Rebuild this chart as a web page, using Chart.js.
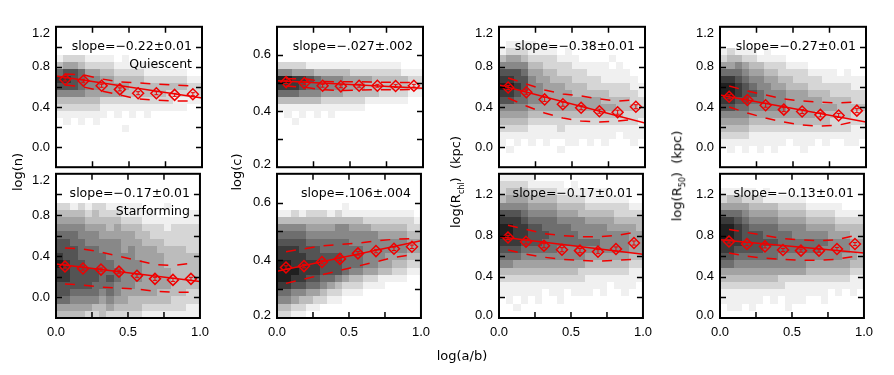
<!DOCTYPE html>
<html>
<head>
<meta charset="utf-8">
<script src="https://cdn.jsdelivr.net/npm/chart.js@4.4.1/dist/chart.umd.min.js"></script>
<style>
body { margin:0; background:#fff; width:894px; height:375px; position:relative; overflow:hidden; font-family:"DejaVu Sans", sans-serif; }
canvas { position:absolute; }
.yt { position:absolute; font-size:13px; white-space:nowrap; transform:translate(-50%,-50%) rotate(-90deg); color:#000; }
.xt { position:absolute; font-size:13px; white-space:nowrap; transform:translate(-50%,-50%); color:#000; }
sub { font-size:8px; }
</style>
</head>
<body>
<canvas id="p0" width="210" height="168" style="left:6px;top:13px"></canvas>
<canvas id="p1" width="210" height="168" style="left:227px;top:13px"></canvas>
<canvas id="p2" width="210" height="168" style="left:449px;top:13px"></canvas>
<canvas id="p3" width="210" height="168" style="left:670px;top:13px"></canvas>
<canvas id="p4" width="210" height="188" style="left:6px;top:160px"></canvas>
<canvas id="p5" width="210" height="188" style="left:227px;top:160px"></canvas>
<canvas id="p6" width="210" height="188" style="left:449px;top:160px"></canvas>
<canvas id="p7" width="210" height="188" style="left:670px;top:160px"></canvas>
<div class="yt" style="left:17px;top:172px">log(n)</div>
<div class="yt" style="left:236px;top:172px">log(c)</div>
<div class="yt" style="left:457px;top:182px">log(R<sub>chl</sub>)&nbsp;&nbsp;(kpc)</div>
<div class="yt" style="left:678px;top:176px">log(R<sub>50</sub>)&nbsp;&nbsp;(kpc)</div>
<div class="xt" style="left:462px;top:355px">log(a/b)</div>
<script>
// bin centres in log(a/b)
const xBins = [0.0625, 0.1875, 0.3125, 0.4375, 0.5625, 0.6875, 0.8125, 0.9375];
const xTickMarks = [0.25, 0.5, 0.75];

// log(n), quiescent
const nQMed = [0.675, 0.662, 0.612, 0.576, 0.538, 0.538, 0.521, 0.528];
const nQUp  = [0.73, 0.72, 0.68, 0.65, 0.64, 0.63, 0.62, 0.61];
const nQLo  = [0.62, 0.60, 0.56, 0.52, 0.48, 0.47, 0.46, 0.46];
const nQFit = [0.71, 0.49];
// log(n), starforming
const nSMed = [0.30, 0.28, 0.27, 0.25, 0.21, 0.18, 0.17, 0.18];
const nSUp  = [0.48, 0.47, 0.44, 0.40, 0.36, 0.32, 0.31, 0.33];
const nSLo  = [0.13, 0.12, 0.10, 0.09, 0.08, 0.06, 0.05, 0.05];
const nSFit = [0.325, 0.155];
// log(c), quiescent
const cQMed = [0.503, 0.500, 0.490, 0.488, 0.490, 0.490, 0.489, 0.490];
const cQUp  = [0.515, 0.515, 0.505, 0.504, 0.505, 0.503, 0.502, 0.502];
const cQLo  = [0.489, 0.485, 0.476, 0.473, 0.475, 0.476, 0.476, 0.477];
const cQFit = [0.508, 0.481];
// log(c), starforming
const cSMed = [0.375, 0.380, 0.394, 0.405, 0.424, 0.432, 0.440, 0.447];
const cSUp  = [0.430, 0.440, 0.450, 0.455, 0.460, 0.467, 0.473, 0.475];
const cSLo  = [0.320, 0.335, 0.350, 0.365, 0.380, 0.395, 0.410, 0.420];
const cSFit = [0.362, 0.468];
// log(R_chl), quiescent
const rQMed = [0.595, 0.547, 0.476, 0.428, 0.393, 0.358, 0.348, 0.403];
const rQUp  = [0.69, 0.63, 0.57, 0.53, 0.51, 0.48, 0.46, 0.47];
const rQLo  = [0.49, 0.41, 0.34, 0.29, 0.26, 0.25, 0.26, 0.28];
const rQFit = [0.62, 0.24];
// log(R_chl), starforming
const rSMed = [0.782, 0.740, 0.702, 0.663, 0.654, 0.644, 0.670, 0.728];
const rSUp  = [0.90, 0.86, 0.82, 0.80, 0.79, 0.79, 0.80, 0.83];
const rSLo  = [0.66, 0.62, 0.59, 0.57, 0.56, 0.55, 0.56, 0.57];
const rSFit = [0.79, 0.62];
// log(R_50), quiescent
const hQMed = [0.502, 0.470, 0.418, 0.374, 0.355, 0.322, 0.316, 0.364];
const hQUp  = [0.61, 0.56, 0.52, 0.48, 0.46, 0.45, 0.44, 0.45];
const hQLo  = [0.40, 0.34, 0.29, 0.25, 0.22, 0.21, 0.22, 0.26];
const hQFit = [0.52, 0.25];
// log(R_50), starforming
const hSMed = [0.743, 0.718, 0.695, 0.660, 0.654, 0.654, 0.670, 0.718];
const hSUp  = [0.86, 0.83, 0.80, 0.77, 0.76, 0.75, 0.76, 0.80];
const hSLo  = [0.63, 0.60, 0.58, 0.57, 0.56, 0.56, 0.57, 0.60];
const hSFit = [0.76, 0.63];

// half-size of the error bar on each median, per panel
const errHalf = [0.015, 0.005, 0.02, 0.02, 0.015, 0.006, 0.02, 0.015];

// 2d histograms, grey level 0-9, rows from top of axis down, 20 columns over log(a/b)
const nQHeat = [
  "00000000000000000000","00000000000000000000","00000000000000000000","00000000000000000000",
  "12221111010000000000","34432222111111000000","67764433222211111100","88765544333322222211",
  "77765544443333333322","55554444433333322222","33333322222222221111","22222211111111111100",
  "11111110101010000000","01010100000000000000","00000000010000000000","00000000000000000000",
  "00000000000000000000","00000000000000000000","00000000000000000000","00000000000000000000"];
const nSHeat = [
  "00000000000000000000","00000000000000000000","00000000000000000000","00000000000000000000",
  "22121221111100010000","33332322211111000011","44443333322211111111","55554443433322212222",
  "66655544444332222222","77665555544433322222","77766655545444333322","87766665555444433333",
  "98776666555544433333","88777766655544443333","88777767655544443333","77777666555444443333",
  "77666656544444333322","66555545443333332222","44444334333322222211","33332232222211111111"];
const cQHeat = [
  "00000000000000000000","00000000000000000000","00000000000000000000","00000000000000000000",
  "00000000000000000000","22221111111111111000","55444333332222222111","99887655544443333322",
  "88876655544433333322","66655544433333222211","33333322222211111100","11111111111100000000",
  "01010101000000000000","00100000000000000000","00000000000000000000","00000000000000000000",
  "00000000000000000000","00000000000000000000","00000000000000000000","00000000000000000000"];
const cSHeat = [
  "00000000000000000000","00000000000000000000","00000000000000000000","00000000000000000000",
  "00000000010000000000","11212221211111111110","33333333333322222221","55554444554443333322",
  "66665555555555444433","77776666665555555544","88877766666655555544","88887777766655544433",
  "99888877766655443322","99988877765544332211","99887766543322111100","88776654322211100000",
  "66554432211100000000","55433221100000000000","33221100000000000000","22110000000000000000"];
const rQHeat = [
  "00000000000000000000","00000000000000000000","01111010000000000000","12221111010000000000",
  "34432222111000010000","55553322221111101000","77764433222211111100","88775443332222111110",
  "99875544433322222211","88765544443333322221","77665544444444333322","55554444444444443332",
  "44443333333333333222","33332222222222222221","22221111211111111111","11111111111111110111",
  "10101010011010100010","01000000100000000000","00000000000000000000","00000000000000000000"];
const rSHeat = [
  "11111000000000000000","22221111101000000000","23332222111111100000","34443333222211111100",
  "55554444333322222211","77765555444333332222","88876666555544443333","99887766665555544443",
  "99887776666555555544","88877766666666555544","77766666555555555544","66655555555544444433",
  "55444444444433333322","33333333333222222211","22222222222211111111","11111111111111101110",
  "11111101101110100100","01010100100000000000","00100000000000000000","00000000000000000000"];
const hQHeat = [
  "00000000000000000000","00000000000000000000","00000000000000000000","12111010000000000000",
  "23322111100000000000","44543322211100000000","66654433222211110100","88765544332222111111",
  "99876554433322222211","99877655544433322222","88776655544444333322","77665555544444443333",
  "55554444444443333322","44443333333333322222","33332222222222222211","22221111111111111111",
  "11111111101110100110","01010101000100000000","00000000000000000000","00000000000000000000"];
const hSHeat = [
  "00000000000000000000","00000000000000000000","11111010000000000000","23322211111100000000",
  "44443333222211111000","66654444333322221111","88765555444433332222","99876666555544443333",
  "99877766665555544433","88877777666666655544","88777766666666555544","77666666555555555443",
  "66555555555544444433","44444444444433333322","33333333222222222211","22222222211111111111",
  "11111111111111101010","11111101011100100000","01101000010000000000","00000000000000000000"];

const red = 'rgb(240,0,0)';
const tickFont = '13px "Liberation Sans"';

function yLabel(v, p) {
  const k = Math.round(v * 10);
  if (k % p.labelMod !== 0) return '';
  return Math.abs(v) < 1e-9 ? '0.0' : v.toFixed(1);
}

function makePanel(id, p) {
  const isEdge = v => Math.abs(v - p.yMin) < 1e-9 || Math.abs(v - p.yMax) < 1e-9;
  const panelDraw = {
    id: 'panelDraw',
    beforeDatasetsDraw(chart) {
      const { ctx, scales: { x, y } } = chart;
      const rows = p.heat.length, cols = p.heat[0].length;
      const dy = (p.yMax - p.yMin) / rows, dx = 1 / cols;
      ctx.save();
      for (let r = 0; r < rows; r++) {
        for (let c = 0; c < cols; c++) {
          const lv = +p.heat[r][c];
          if (!lv) continue;
          const g = 240 - (lv - 1) * 26;
          ctx.fillStyle = `rgb(${g},${g},${g})`;
          const x0 = Math.round(x.getPixelForValue(c * dx));
          const x1 = Math.round(x.getPixelForValue((c + 1) * dx));
          const y0 = Math.round(y.getPixelForValue(p.yMax - r * dy));
          const y1 = Math.round(y.getPixelForValue(p.yMax - (r + 1) * dy));
          ctx.fillRect(x0, y0, x1 - x0, y1 - y0);
        }
      }
      ctx.restore();
    },
    afterDatasetsDraw(chart) {
      const { ctx, chartArea: a, scales: { x, y } } = chart;
      ctx.save();
      // error bars on the medians
      ctx.strokeStyle = red;
      ctx.lineWidth = 1;
      xBins.forEach((xv, i) => {
        const px = x.getPixelForValue(xv);
        const t = y.getPixelForValue(p.med[i] + p.err), b = y.getPixelForValue(p.med[i] - p.err);
        ctx.beginPath();
        ctx.moveTo(px, t); ctx.lineTo(px, b);
        ctx.moveTo(px - 2, t); ctx.lineTo(px + 2, t);
        ctx.moveTo(px - 2, b); ctx.lineTo(px + 2, b);
        ctx.stroke();
      });
      // inward tick marks on all four sides
      ctx.strokeStyle = '#000';
      ctx.lineWidth = 1.5;
      ctx.beginPath();
      xTickMarks.forEach(v => {
        const px = x.getPixelForValue(v);
        ctx.moveTo(px, a.bottom); ctx.lineTo(px, a.bottom - 6);
        ctx.moveTo(px, a.top); ctx.lineTo(px, a.top + 6);
      });
      for (let v = p.yMin + p.yStep; v < p.yMax - p.yStep / 2; v += p.yStep) {
        const py = Math.round(y.getPixelForValue(v)) + 0.5;
        ctx.moveTo(a.left, py); ctx.lineTo(a.left + 6, py);
        ctx.moveTo(a.right, py); ctx.lineTo(a.right - 6, py);
      }
      ctx.stroke();
      ctx.lineWidth = 2;
      ctx.strokeRect(a.left, a.top, a.width, a.height);
      // labels at the ends of the y axis are pulled inside the frame
      ctx.fillStyle = '#000';
      ctx.font = tickFont;
      ctx.textAlign = 'right';
      ctx.textBaseline = 'middle';
      const top = yLabel(p.yMax, p), bot = yLabel(p.yMin, p);
      if (top) ctx.fillText(top, a.left - 6, a.top + 6.5);
      if (bot) ctx.fillText(bot, a.left - 6, a.bottom - 3);
      // annotations
      ctx.font = '12.5px "DejaVu Sans"';
      ctx.fillText(p.slope, a.right - 10, a.top + 20);
      if (p.tag) ctx.fillText(p.tag, a.right - 10, a.top + 38);
      ctx.restore();
    }
  };

  const pts = arr => xBins.map((xv, i) => ({ x: xv, y: arr[i] }));

  new Chart(document.getElementById(id), {
    type: 'line',
    data: {
      datasets: [
        { data: [{ x: 0, y: p.fit[0] }, { x: 1, y: p.fit[1] }], borderColor: red, borderWidth: 1.5, pointRadius: 0 },
        { data: pts(p.up), borderColor: red, borderWidth: 1.5, borderDash: [10, 9], pointRadius: 0 },
        { data: pts(p.lo), borderColor: red, borderWidth: 1.5, borderDash: [10, 9], pointRadius: 0 },
        { data: pts(p.med), showLine: false, pointStyle: 'rectRot', pointRadius: 5.5,
          pointBorderColor: red, pointBackgroundColor: 'rgba(0,0,0,0)', pointBorderWidth: 1.5 }
      ]
    },
    options: {
      animation: false,
      responsive: false,
      events: [],
      layout: { padding: { top: 12, right: 14, left: 0, bottom: p.bottom ? 0 : 9 } },
      plugins: { legend: { display: false }, tooltip: { enabled: false } },
      scales: {
        x: {
          type: 'linear', min: 0, max: 1,
          display: p.bottom,
          afterFit: s => { s.height = p.bottom ? 30 : 0; },
          grid: { display: false, drawTicks: false },
          border: { display: false },
          ticks: {
            stepSize: 0.25, padding: 7, maxRotation: 0, autoSkip: false, color: '#000',
            font: { family: 'Liberation Sans', size: 13 },
            callback: v => (Math.round(v * 4) % 2 === 0 ? v.toFixed(1) : '')
          }
        },
        y: {
          type: 'linear', min: p.yMin, max: p.yMax,
          afterFit: s => { s.width = 50; },
          grid: { display: false, drawTicks: false },
          border: { display: false },
          ticks: {
            stepSize: p.yStep, padding: 6, autoSkip: false, color: '#000',
            font: { family: 'Liberation Sans', size: 13 },
            callback: v => (isEdge(v) ? '' : yLabel(v, p))
          }
        }
      }
    },
    plugins: [panelDraw]
  });
}

const panels = [
  { id: 'p0', med: nQMed, up: nQUp, lo: nQLo, fit: nQFit, heat: nQHeat, err: errHalf[0], yMin: -0.2, yMax: 1.2, yStep: 0.2, labelMod: 4, slope: 'slope=\u22120.22\u00b10.01', tag: 'Quiescent', bottom: false },
  { id: 'p1', med: cQMed, up: cQUp, lo: cQLo, fit: cQFit, heat: cQHeat, err: errHalf[1], yMin: 0.2, yMax: 0.7, yStep: 0.1, labelMod: 2, slope: 'slope=\u2212.027\u00b1.002', bottom: false },
  { id: 'p2', med: rQMed, up: rQUp, lo: rQLo, fit: rQFit, heat: rQHeat, err: errHalf[2], yMin: -0.2, yMax: 1.2, yStep: 0.2, labelMod: 4, slope: 'slope=\u22120.38\u00b10.01', bottom: false },
  { id: 'p3', med: hQMed, up: hQUp, lo: hQLo, fit: hQFit, heat: hQHeat, err: errHalf[3], yMin: -0.2, yMax: 1.2, yStep: 0.2, labelMod: 4, slope: 'slope=\u22120.27\u00b10.01', bottom: false },
  { id: 'p4', med: nSMed, up: nSUp, lo: nSLo, fit: nSFit, heat: nSHeat, err: errHalf[4], yMin: -0.2, yMax: 1.2, yStep: 0.2, labelMod: 4, slope: 'slope=\u22120.17\u00b10.01', tag: 'Starforming', bottom: true },
  { id: 'p5', med: cSMed, up: cSUp, lo: cSLo, fit: cSFit, heat: cSHeat, err: errHalf[5], yMin: 0.2, yMax: 0.7, yStep: 0.1, labelMod: 2, slope: 'slope=.106\u00b1.004', bottom: true },
  { id: 'p6', med: rSMed, up: rSUp, lo: rSLo, fit: rSFit, heat: rSHeat, err: errHalf[6], yMin: 0, yMax: 1.4, yStep: 0.2, labelMod: 4, slope: 'slope=\u22120.17\u00b10.01', bottom: true },
  { id: 'p7', med: hSMed, up: hSUp, lo: hSLo, fit: hSFit, heat: hSHeat, err: errHalf[7], yMin: 0, yMax: 1.4, yStep: 0.2, labelMod: 4, slope: 'slope=\u22120.13\u00b10.01', bottom: true }
];

panels.forEach(p => makePanel(p.id, p));
</script>
</body>
</html>
